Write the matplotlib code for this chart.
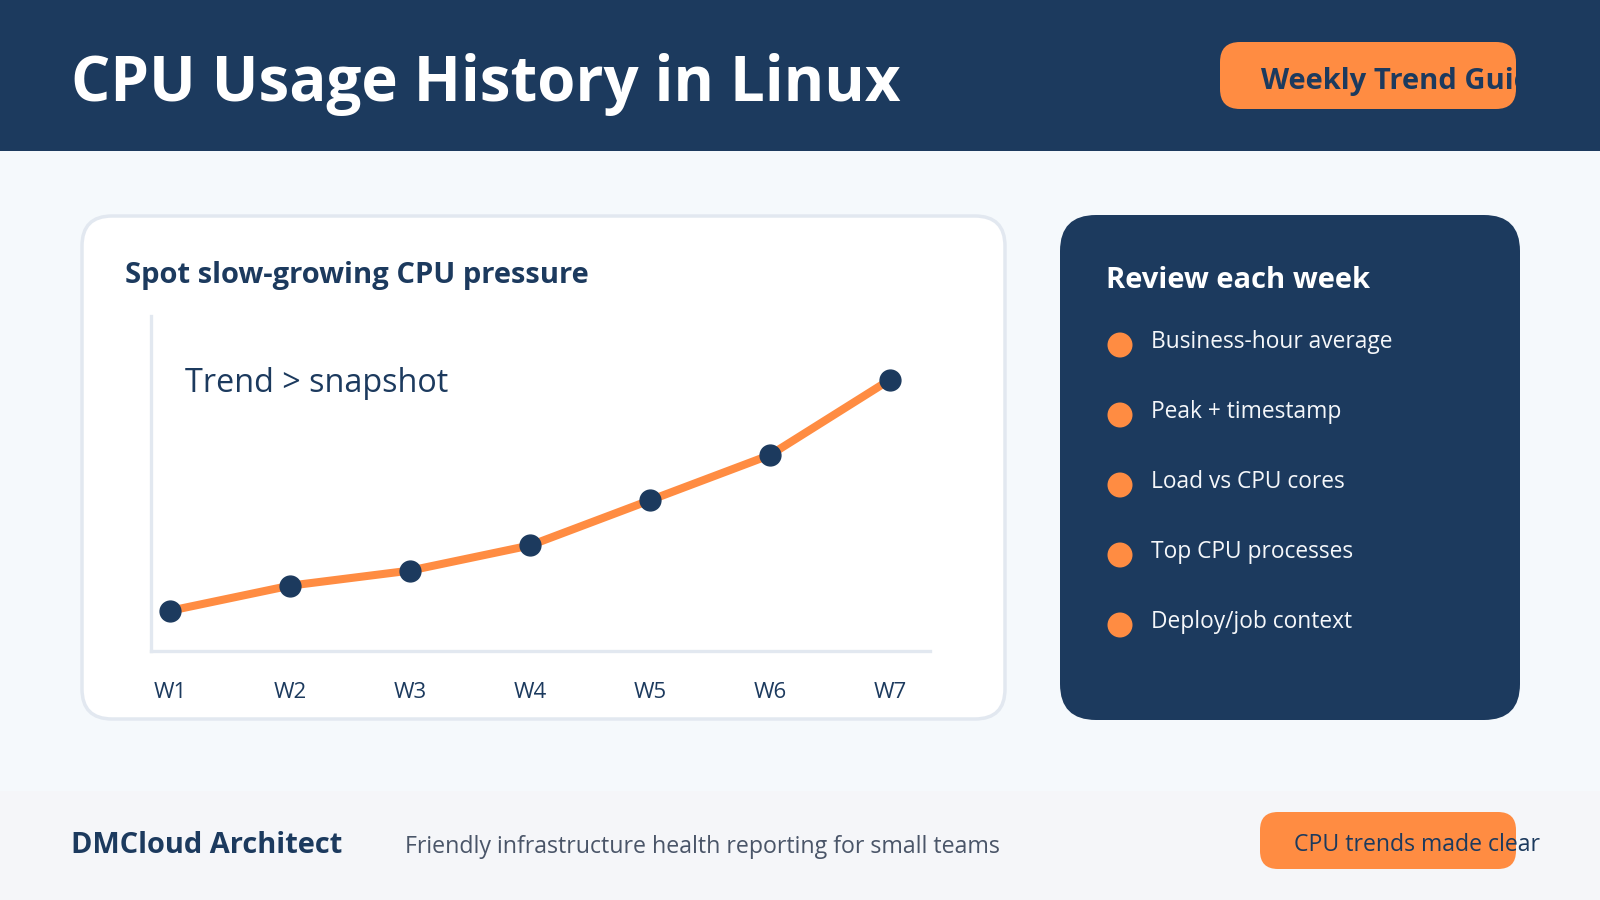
import matplotlib
matplotlib.use("Agg")
import matplotlib.pyplot as plt
from matplotlib.patches import FancyBboxPatch, Rectangle, Circle

plt.rcParams["font.family"] = ["Open Sans", "DejaVu Sans"]

NAVY = "#1C3A5E"
ORANGE = "#FF8C42"
CARD_EDGE = "#E2E8F0"

weeks = ["W1", "W2", "W3", "W4", "W5", "W6", "W7"]
cpu_pct = [12, 19.5, 24, 31.5, 45, 58.5, 81]
checklist = [
    "Business-hour average",
    "Peak + timestamp",
    "Load vs CPU cores",
    "Top CPU processes",
    "Deploy/job context",
]

fig = plt.figure(figsize=(16, 9), dpi=100)
fig.patch.set_facecolor("#F5F9FC")

# background layer in pixel coordinates (y down)
bg = fig.add_axes([0, 0, 1, 1])
bg.set_xlim(0, 1600)
bg.set_ylim(900, 0)
bg.axis("off")


def rbox(x, y, w, h, r, fc, ec="none", lw=0, z=1):
    p = FancyBboxPatch((x, y), w, h, boxstyle=f"round,pad=0,rounding_size={r}",
                       fc=fc, ec=ec, lw=lw, zorder=z)
    bg.add_patch(p)
    return p


# header
bg.add_patch(Rectangle((0, 0), 1600, 151, fc=NAVY, ec="none", zorder=1))
bg.text(71, 85, "CPU Usage History in Linux", color="white", fontsize=44.5,
        fontweight="bold", va="center", zorder=2)
rbox(1220, 42, 296, 67, 20, ORANGE, z=2)
bg.text(1261, 81, "Weekly Trend Guide", color=NAVY, fontsize=21,
        fontweight="bold", va="center", zorder=3)

# footer band
bg.add_patch(Rectangle((0, 791), 1600, 109, fc="#F5F6F9", ec="none", zorder=1))
bg.text(71, 853, "DMCloud Architect", color=NAVY, fontsize=20.9,
        fontweight="bold", va="baseline", zorder=2)
bg.text(405, 853, "Friendly infrastructure health reporting for small teams",
        color="#4A5568", fontsize=16.7, va="baseline", zorder=2)
rbox(1260, 812, 256, 57, 18, ORANGE, z=2)
bg.text(1294, 851, "CPU trends made clear", color=NAVY, fontsize=16.6,
        va="baseline", zorder=3)

# chart card
rbox(82, 216, 923, 503, 30, "white", ec=CARD_EDGE, lw=2.5, z=1)
bg.text(125, 283, "Spot slow-growing CPU pressure", color=NAVY, fontsize=21,
        fontweight="bold", va="baseline", zorder=2)

# right panel
rbox(1060, 215, 460, 505, 36, NAVY, z=1)
bg.text(1106, 288, "Review each week", color="white", fontsize=21,
        fontweight="bold", va="baseline", zorder=2)
for i, item in enumerate(checklist):
    yb = 348 + i * 70
    bg.add_patch(Circle((1120, yb - 3), 12.5, fc=ORANGE, ec="none", zorder=2))
    bg.text(1151, yb, item, color="#F5F7FA", fontsize=16.4, va="baseline", zorder=2)

# line chart
ax = fig.add_axes([151 / 1600, (900 - 651) / 900, (930 - 151) / 1600, (651 - 316) / 900])
ax.patch.set_alpha(0)
x = list(range(len(weeks)))
ax.plot(x, cpu_pct, color=ORANGE, lw=5.8, solid_capstyle="round", zorder=2)
ax.plot(x, cpu_pct, "o", color=NAVY, ms=15, mec=NAVY, zorder=3)
ax.set_xlim(-0.158, 6.333)
ax.set_ylim(0, 100)
ax.set_xticks(x, weeks)
ax.set_yticks([])
ax.tick_params(axis="x", length=0, pad=22, labelsize=16, labelcolor=NAVY)
for s in ("top", "right"):
    ax.spines[s].set_visible(False)
for s in ("left", "bottom"):
    ax.spines[s].set_color(CARD_EDGE)
    ax.spines[s].set_linewidth(2.4)
ax.text(0.044, 0.80, "Trend > snapshot", transform=ax.transAxes, color=NAVY,
        fontsize=23.3, va="center")

fig.savefig("out.png", dpi=100, facecolor=fig.get_facecolor())
